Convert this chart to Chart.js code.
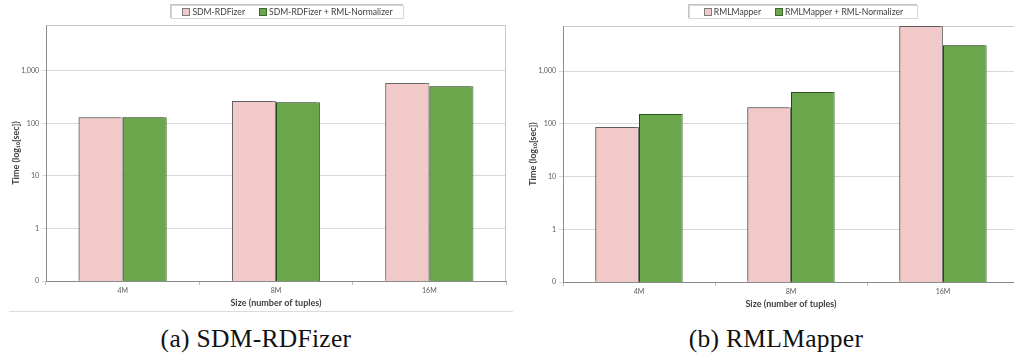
<!DOCTYPE html>
<html>
<head>
<meta charset="utf-8">
<script src="https://cdn.jsdelivr.net/npm/chart.js@4/dist/chart.umd.min.js"></script>
<style>
  html, body { margin: 0; padding: 0; background: #fff; }
  body { width: 1014px; height: 360px; position: relative; overflow: hidden; }
  .box { position: absolute; top: 0; height: 320px; }
  .legend {
    position: absolute; top: 5px; height: 12px;
    border: 1px solid #d6d6d6; box-shadow: -1px -1px 0 #c4c4c4;
    background: #fff; font: 8.6px Lato, sans-serif; color: #404040;
    display: flex; align-items: center; justify-content: center; gap: 14px;
    white-space: nowrap;
  }
  .legend span.sw { display: inline-block; width: 6px; height: 6px; margin-right: 2px; vertical-align: -0.5px; }
  .frame { position: absolute; left: 9px; top: 311px; width: 504px; height: 1px; background: #dcdcdc; }
  .caption {
    position: absolute; top: 326px; width: 400px; text-align: center;
    font: 25.5px "Liberation Serif", serif; letter-spacing: 0.3px; line-height: 25px; color: #111;
  }
</style>
</head>
<body>
<div class="box" style="left:0;width:507px"><canvas id="rdfizerChart"></canvas></div>
<div class="box" style="left:507px;width:514px"><canvas id="mapperChart"></canvas></div>
<div class="legend" id="rdfizerLegend" style="left:171px;width:231px"></div>
<div class="legend" id="mapperLegend" style="left:689px;width:227px"></div>
<div class="frame"></div>
<div class="caption" style="left:56px">(a) SDM-RDFizer</div>
<div class="caption" style="left:576px">(b) RMLMapper</div>

<script>
const categories = ['4M', '8M', '16M'];
const yTicks = [0.1, 1, 10, 100, 1000];

// execution time in seconds
const rdfizerTimes = [130, 266, 587];
const rdfizerNormTimes = [130, 251, 508];
const mapperTimes = [86.5, 205, 7150];
const mapperNormTimes = [153, 400, 3080];

const seriesNames = {
  rdfizer: ['SDM-RDFizer', 'SDM-RDFizer + RML-Normalizer'],
  mapper: ['RMLMapper', 'RMLMapper + RML-Normalizer']
};

const pink = { fill: '#f2c9c9', border: '#7c7c7c' };
const green = { fill: '#69a64c', border: '#3d6a2a' };

// light frame on top / right of the plot area
const plotFrame = {
  id: 'plotFrame',
  beforeDatasetsDraw(chart) {
    const { ctx, chartArea: a } = chart;
    ctx.save();
    ctx.strokeStyle = '#c8c8c8';
    ctx.lineWidth = 1;
    ctx.beginPath();
    ctx.moveTo(Math.round(a.left) + 0.5, Math.round(a.top) + 0.5);
    ctx.lineTo(Math.round(a.right) - 0.5, Math.round(a.top) + 0.5);
    ctx.lineTo(Math.round(a.right) - 0.5, Math.round(a.bottom));
    ctx.stroke();
    ctx.restore();
  }
};

// soft shadow on the left side of each bar
const barShadow = {
  id: 'barShadow',
  beforeDatasetDraw(chart) {
    const ctx = chart.ctx;
    ctx.save();
    ctx.shadowColor = 'rgba(0,0,0,0.35)';
    ctx.shadowOffsetX = -2;
    ctx.shadowOffsetY = -1;
    ctx.shadowBlur = 1.5;
  },
  afterDatasetDraw(chart) {
    chart.ctx.restore();
  }
};

function buildLegend(id, names) {
  const el = document.getElementById(id);
  [pink, green].forEach((c, i) => {
    const item = document.createElement('div');
    item.innerHTML = `<span class="sw" style="background:${c.fill};border:1px solid ${c.border}"></span>${names[i]}`;
    el.appendChild(item);
  });
}

function makeChart(canvasId, names, first, second, yMax, pad, axisWidth, titlePad) {
  const tickFont = { family: 'Lato', size: 7 };
  const titleFont = { family: 'Lato', size: 9, weight: 'bold' };
  return new Chart(document.getElementById(canvasId), {
    type: 'bar',
    data: {
      labels: categories,
      datasets: [
        { label: names[0], data: first, backgroundColor: pink.fill, borderColor: pink.border, borderWidth: 1 },
        { label: names[1], data: second, backgroundColor: green.fill, borderColor: green.border, borderWidth: 1 }
      ]
    },
    options: {
      responsive: true,
      maintainAspectRatio: false,
      animation: false,
      datasets: { bar: { barPercentage: 1, categoryPercentage: 0.575 } },
      layout: { padding: pad },
      plugins: {
        legend: { display: false },
        tooltip: { enabled: false }
      },
      scales: {
        x: {
          grid: { display: true, drawOnChartArea: false, offset: true, tickLength: 4, color: '#bdbdbd' },
          border: { color: '#8a8a8a' },
          ticks: { font: tickFont, color: '#595959', padding: 2 },
          title: { display: true, text: 'Size (number of tuples)', font: titleFont, color: '#404040', padding: { top: 0, bottom: 3 } },
          afterFit: s => { s.height = 30; }
        },
        y: {
          type: 'logarithmic',
          min: 0.1,
          max: yMax,
          afterBuildTicks: s => { s.ticks = yTicks.map(v => ({ value: v })); },
          grid: { color: '#d9d9d9', tickLength: 4 },
          border: { color: '#8a8a8a' },
          ticks: {
            font: tickFont, color: '#595959', padding: 3,
            callback: v => v < 1 ? '0' : v.toLocaleString('en-US')
          },
          title: { display: true, text: 'Time (log₁₀[sec])', font: titleFont, color: '#404040', padding: { top: titlePad, bottom: 0 } },
          afterFit: s => { s.width = axisWidth; }
        }
      }
    },
    plugins: [plotFrame, barShadow]
  });
}

buildLegend('rdfizerLegend', seriesNames.rdfizer);
buildLegend('mapperLegend', seriesNames.mapper);

makeChart('rdfizerChart', seriesNames.rdfizer, rdfizerTimes, rdfizerNormTimes, 7440,
  { top: 25, right: 1, bottom: 9, left: 0 }, 46, 10.6);
makeChart('mapperChart', seriesNames.mapper, mapperTimes, mapperNormTimes, 7150,
  { top: 26, right: 2, bottom: 8, left: 0 }, 56, 20.6);
</script>
</body>
</html>
